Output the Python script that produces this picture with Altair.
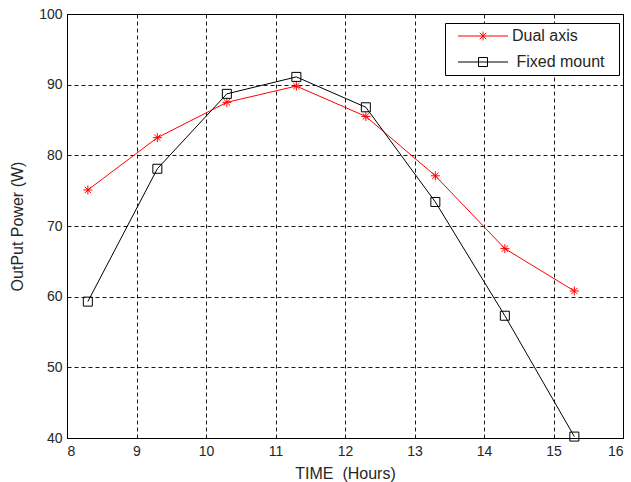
import altair as alt
import pandas as pd

# Hourly output power of the two PV mounting configurations
hours = [8.3, 9.3, 10.3, 11.3, 12.3, 13.3, 14.3, 15.3]
dual_axis = [75.1, 82.5, 87.5, 89.8, 85.5, 77.1, 66.8, 60.8]
fixed_mount = [59.3, 78.1, 88.7, 91.1, 86.8, 73.4, 57.3, 40.2]

series_names = ["Dual axis", "Fixed mount"]
series_colors = ["#ff0000", "#000000"]
x_ticks = list(range(8, 17))
y_ticks = list(range(40, 101, 10))

df = pd.DataFrame({
    "time": hours + hours,
    "power": dual_axis + fixed_mount,
    "series": [series_names[0]] * len(hours) + [series_names[1]] * len(hours),
})

FONT = "Liberation Sans"
TEXT = "#262626"
NBSP = "\u00a0"
ZWSP = "\u200b"  # keeps padding spaces from being trimmed off legend labels

# marker glyphs (unit box [-1, 1])
ASTERISK = "M-1,0H1M0,-1V1M-0.7,-0.7L0.7,0.7M-0.7,0.7L0.7,-0.7"
# legend keys: line segment with the marker in the middle (symbolSize 100 -> 5 px per unit)
KEY_ASTERISK = "M-5,0H5M0,-0.9V0.9M-0.65,-0.65L0.65,0.65M-0.65,0.65L0.65,-0.65"
KEY_SQUARE = "M-5,0H5M-0.9,-0.9H0.9V0.9H-0.9Z"

color_scale = alt.Scale(domain=series_names, range=series_colors)

x_enc = alt.X(
    "time:Q",
    scale=alt.Scale(domain=[8, 16], nice=False, zero=False),
    axis=alt.Axis(
        values=x_ticks, title="TIME" + NBSP + " (Hours)", labelPadding=6,
        titleX=278, titleY=35, titleBaseline="middle",
    ),
)
y_enc = alt.Y(
    "power:Q",
    scale=alt.Scale(domain=[40, 100], nice=False, zero=False),
    axis=alt.Axis(
        values=y_ticks, title="OutPut Power (W)", labelPadding=5,
        titleX=-50, titleY=212, titleAngle=-90, titleAlign="center",
        titleBaseline="middle",
    ),
)

base = alt.Chart(df)

lines = base.mark_line(strokeWidth=1).encode(
    x=x_enc, y=y_enc,
    color=alt.Color("series:N", scale=color_scale, legend=None),
)

points = base.mark_point(filled=False, strokeWidth=1, size=81, opacity=1).encode(
    x=x_enc, y=y_enc,
    color=alt.Color("series:N", scale=color_scale, legend=None),
    shape=alt.Shape("series:N", scale=alt.Scale(domain=series_names, range=[ASTERISK, "square"]),
                    legend=None),
)

label_expr = (
    "datum.label == 'Fixed mount' ? '" + ZWSP + " ' + datum.label + '  " + ZWSP + "' : datum.label"
)

key_legend = alt.Legend(
    title=None, orient="none", legendX=378, legendY=9,
    strokeColor="black", fillColor="white", padding=5,
    symbolSize=100, symbolStrokeWidth=1, symbolOffset=25,
    labelOffset=21, labelFont=FONT, labelFontSize=16, labelColor=TEXT,
    rowPadding=10, labelExpr=label_expr,
)

# legend only: no rows drawn, keys come from the explicit scale domains
keys = base.transform_filter("false").mark_point(filled=False, strokeWidth=1, opacity=1).encode(
    x=x_enc, y=y_enc,
    color=alt.Color("series:N", scale=color_scale, legend=key_legend),
    shape=alt.Shape("series:N", scale=alt.Scale(domain=series_names, range=[KEY_ASTERISK, KEY_SQUARE]),
                    legend=key_legend),
)

chart = (
    alt.layer(lines, points, keys)
    .resolve_scale(color="independent", shape="independent")
    .properties(
        width=556, height=424,
        autosize=alt.AutoSizeParams(type="none"),
        padding={"left": 67, "top": 14, "right": 8, "bottom": 44},
        background="white",
    )
    .configure_view(stroke="black", strokeWidth=1)
    .configure_axis(
        grid=True, gridColor="black", gridDash=[4, 3], gridWidth=1, gridOpacity=0.9,
        domainColor="black", domainWidth=1, tickSize=0,
        labelFont=FONT, labelFontSize=14, labelColor=TEXT,
        titleFont=FONT, titleFontSize=16, titleFontWeight="normal", titleColor=TEXT,
    )
)

chart.save("out.html", embed_options={"renderer": "svg", "actions": False})
